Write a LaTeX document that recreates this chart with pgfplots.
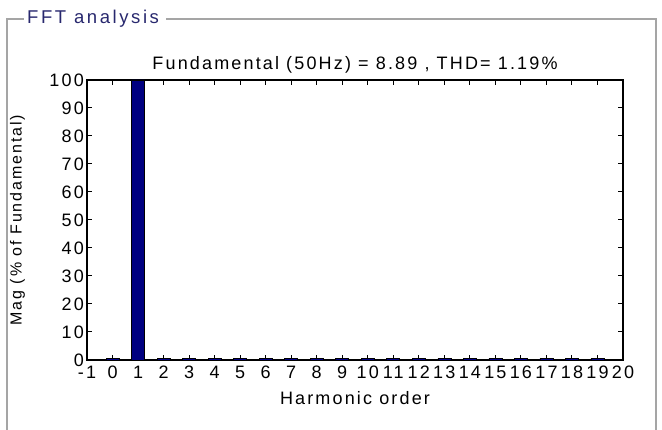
\documentclass[border=0pt]{standalone}
\usepackage{pgfplots}
\pgfplotsset{compat=1.18}
\usepackage{fontspec}
\setmainfont{Liberation Sans}
\newfontfamily\mfont[LetterSpace=12]{Liberation Sans}
\newfontfamily\tfont[LetterSpace=14]{Liberation Sans}
\definecolor{titleblue}{RGB}{40,40,110}
\definecolor{barblue}{RGB}{0,0,128}
\definecolor{framegray}{RGB}{165,165,165}
\begin{document}
\begin{tikzpicture}
\useasboundingbox[fill=white] (0pt,0pt) rectangle (662pt,430pt);
\draw[framegray, line width=1.2pt] (7pt,0pt) -- (7pt,411pt) -- (24pt,411pt);
\draw[framegray, line width=1.2pt] (166pt,411pt) -- (656pt,411pt) -- (656pt,0pt);
\node[anchor=west, text=titleblue, font=\tfont\fontsize{18.5}{21}\selectfont, inner sep=2pt] at (25pt,411pt) {FFT analysis};
\begin{axis}[
  at={(87pt,70pt)}, anchor=south west,
  scale only axis, width=536pt, height=280pt,
  xmin=-1, xmax=20, ymin=0, ymax=100,
  xtick={-1,0,...,20}, ytick={0,10,...,100},
  tick align=inside, major tick length=5pt,
  axis line style={line width=1.2pt},
  tick style={line width=1pt, black},
  /pgf/number format/assume math mode=true,
  ticklabel style={font=\mfont\fontsize{18}{21}\selectfont},
  xticklabel style={inner xsep=0pt, inner ysep=1pt, yshift=-5pt},
  yticklabel style={inner xsep=3pt},
  title={Fundamental (50Hz) = 8.89 , THD= 1.19\%},
  title style={font=\mfont\fontsize{18}{21}\selectfont, yshift=-3pt},
  xlabel={Harmonic order},
  xlabel style={font=\mfont\fontsize{18}{21}\selectfont, yshift=-8pt},
  ylabel={Mag (\% of Fundamental)},
  ylabel style={font=\mfont\fontsize{16}{19}\selectfont, yshift=18pt},
]
\addplot[ybar, bar width=13pt, bar shift=0pt, fill=barblue, draw=black, line width=0.6pt] coordinates {(0,0.6) (1,100) (2,0.6) (3,0.6) (4,0.6) (5,0.6) (6,0.6) (7,0.6) (8,0.6) (9,0.6) (10,0.6) (11,0.6) (12,0.6) (13,0.6) (14,0.6) (15,0.6) (16,0.6) (17,0.6) (18,0.6) (19,0.6)};
\end{axis}
\end{tikzpicture}
\end{document}
